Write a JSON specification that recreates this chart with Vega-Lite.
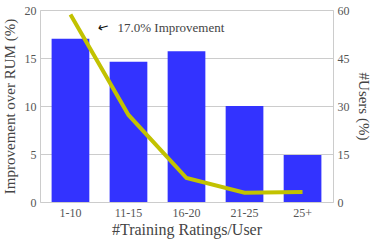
{
  "$schema": "https://vega.github.io/schema/vega-lite/v6.json",
  "autosize": {"type": "none"},
  "padding": {"left": 40, "top": 10, "right": 41, "bottom": 40},
  "width": 293,
  "height": 192,
  "config": {
    "font": "Liberation Serif",
    "view": {"stroke": "#cccccc"},
    "axis": {"labelFont": "Liberation Serif", "titleFont": "Liberation Serif", "labelColor": "#555555", "titleColor": "#444444", "titleFontWeight": "normal", "domain": false, "ticks": false, "labelFontSize": 12, "titleFontSize": 15}
  },
  "data": {"values": [
    {"cat": "1-10", "imp": 17.0, "users": 58.6},
    {"cat": "11-15", "imp": 14.6, "users": 27.2},
    {"cat": "16-20", "imp": 15.7, "users": 7.5},
    {"cat": "21-25", "imp": 10.0, "users": 2.9},
    {"cat": "25+", "imp": 4.9, "users": 3.1}
  ]},
  "encoding": {
    "x": {"field": "cat", "type": "ordinal", "sort": null,
      "scale": {"paddingInner": 0.35, "paddingOuter": 0.2},
      "axis": {"title": "#Training Ratings/User", "titleFontSize": 16, "labelAngle": 0, "labelPadding": 5, "titlePadding": 3, "grid": false}}
  },
  "layer": [
    {
      "layer": [
        {
          "mark": {"type": "bar", "color": "#3333ff"},
          "encoding": {
            "y": {"field": "imp", "type": "quantitative",
              "scale": {"domain": [0, 20]},
              "axis": {"title": "Improvement over RUM (%)", "values": [0, 5, 10, 15, 20], "gridColor": "#cccccc", "labelPadding": 4, "titlePadding": 7}}
          }
        },
        {
          "data": {"values": [{"cat": "11-15", "v": 18.1, "t": "17.0% Improvement"}]},
          "mark": {"type": "text", "align": "left", "baseline": "middle", "dx": -11, "fontSize": 13, "fontWeight": "normal", "color": "#444444"},
          "encoding": {
            "y": {"field": "v", "type": "quantitative"},
            "text": {"field": "t"}
          }
        },
        {
          "data": {"values": [{"cat": "1-10", "v": 17.3, "t": "←"}]},
          "mark": {"type": "text", "align": "center", "baseline": "middle", "dx": 34, "angle": 345, "fontSize": 13, "fontWeight": "normal", "color": "#111111", "font": "DejaVu Sans"},
          "encoding": {
            "y": {"field": "v", "type": "quantitative"},
            "text": {"field": "t"}
          }
        }
      ]
    },
    {
      "mark": {"type": "line", "color": "#c2c200", "strokeWidth": 4},
      "encoding": {
        "y": {"field": "users", "type": "quantitative",
          "scale": {"domain": [0, 60]},
          "axis": {"title": "#Users (%)", "orient": "right", "values": [0, 15, 30, 45, 60], "grid": false, "labelPadding": 4, "titlePadding": 6}}
      }
    }
  ],
  "resolve": {"scale": {"y": "independent"}}
}
